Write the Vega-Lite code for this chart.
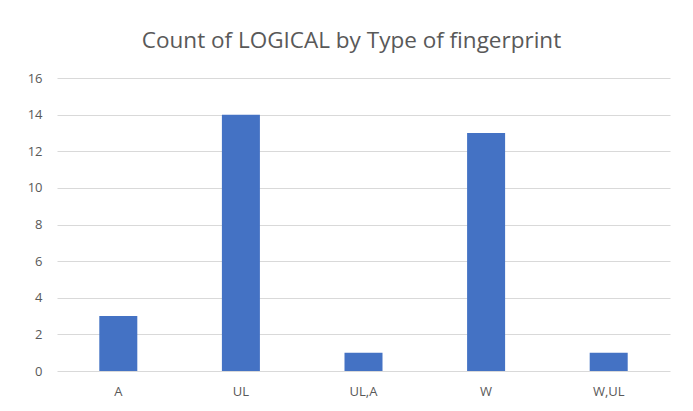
{
  "$schema": "https://vega.github.io/schema/vega-lite/v6.json",
  "width": 613,
  "height": 293,
  "autosize": "none",
  "padding": {"left": 57, "top": 78, "right": 23, "bottom": 40},
  "background": "white",
  "title": {
    "text": "Count of LOGICAL by Type of fingerprint",
    "font": "Open Sans",
    "fontSize": 22.5,
    "fontWeight": "normal",
    "color": "#595959",
    "anchor": "middle",
    "dx": -12,
    "offset": 20
  },
  "data": {
    "values": [
      {"type": "A", "count": 3},
      {"type": "UL", "count": 14},
      {"type": "UL,A", "count": 1},
      {"type": "W", "count": 13},
      {"type": "W,UL", "count": 1}
    ]
  },
  "mark": {"type": "bar", "color": "#4472C4"},
  "encoding": {
    "x": {
      "field": "type",
      "type": "nominal",
      "sort": null,
      "scale": {"paddingInner": 0.69, "paddingOuter": 0.345},
      "axis": {
        "title": null,
        "labelAngle": 0,
        "domain": false,
        "ticks": false,
        "labelFont": "Open Sans",
        "labelFontSize": 13,
        "labelColor": "#595959",
        "labelPadding": 14
      }
    },
    "y": {
      "field": "count",
      "type": "quantitative",
      "scale": {"domain": [0, 16]},
      "axis": {
        "title": null,
        "values": [0, 2, 4, 6, 8, 10, 12, 14, 16],
        "domain": false,
        "ticks": false,
        "grid": true,
        "gridColor": "#D9D9D9",
        "gridWidth": 1,
        "labelFont": "Open Sans",
        "labelFontSize": 13,
        "labelColor": "#595959",
        "labelPadding": 15
      }
    }
  },
  "config": {"view": {"stroke": null}}
}
